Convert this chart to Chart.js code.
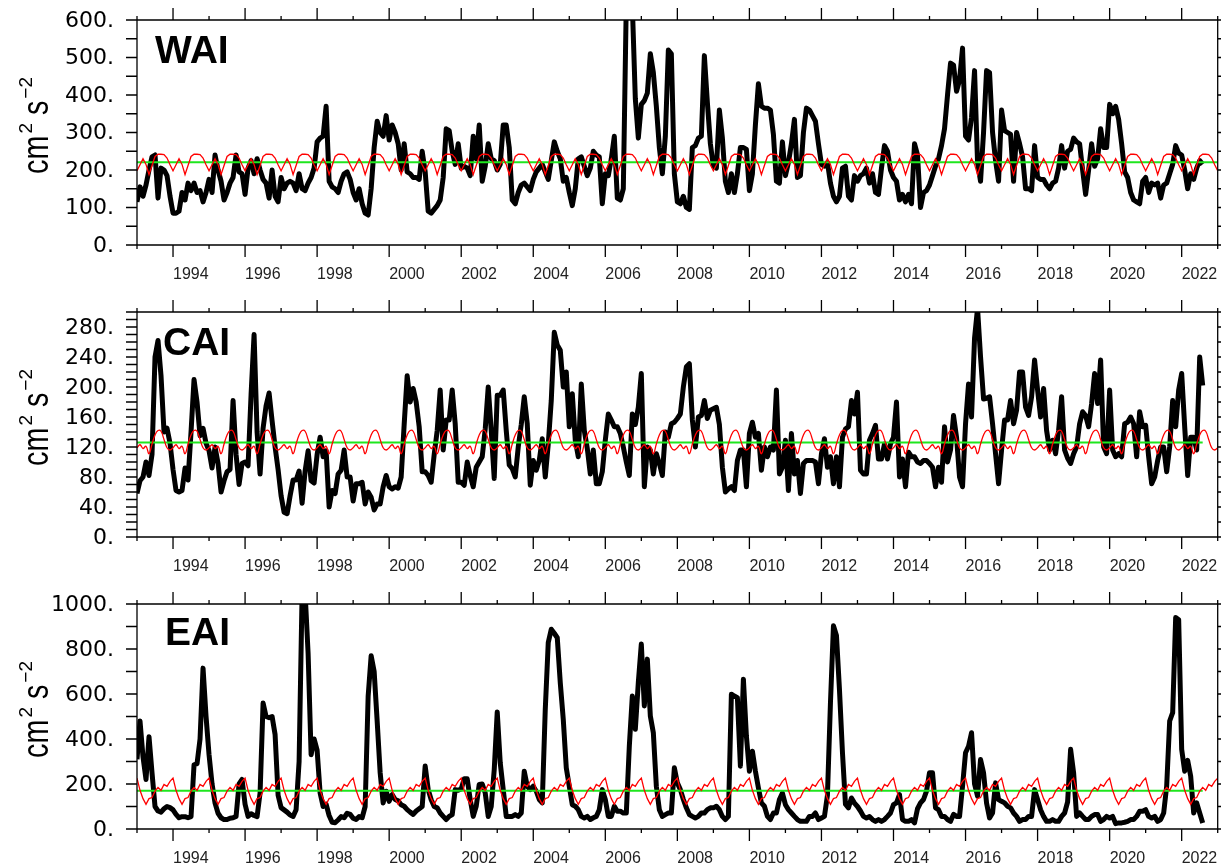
<!DOCTYPE html>
<html>
<head>
<meta charset="utf-8">
<script src="https://cdn.jsdelivr.net/npm/chart.js@4.4.1/dist/chart.umd.min.js"></script>
<style>
  body { margin: 0; background: #fff; }
  #wrap { position: relative; width: 1221px; height: 867px; overflow: hidden; background: #fff; }
  canvas { position: absolute; left: 0; }
</style>
</head>
<body>
<div id="wrap">
  <canvas id="waiChart" width="1221" height="292" style="top:0px"></canvas>
  <canvas id="caiChart" width="1221" height="292" style="top:292px"></canvas>
  <canvas id="eaiChart" width="1221" height="292" style="top:584px"></canvas>
</div>
<script>
// monthly series, Jan 1993 onward
const startYear = 1993;
const endYear = 2023;
const xTickYears = [1994, 1996, 1998, 2000, 2002, 2004, 2006, 2008, 2010, 2012, 2014, 2016, 2018, 2020, 2022];

const waiValues = [
  115, 155, 130, 160, 200, 235, 240, 125, 205, 200, 185, 130,
  85, 85, 90, 140, 120, 165, 145, 165, 140, 145, 115, 140,
  175, 140, 240, 200, 170, 120, 140, 165, 180, 240, 195, 190,
  135, 205, 225, 190, 230, 200, 175, 165, 125, 200, 130, 115,
  180, 150, 165, 170, 165, 145, 190, 150, 145, 165, 180, 205,
  275, 285, 290, 370, 170, 155, 150, 140, 170, 190, 195, 175,
  140, 120, 150, 110, 85, 80, 150, 260, 330, 300, 290, 345,
  280, 320, 300, 270, 200, 270, 195, 190, 180, 180, 175, 250,
  195, 90, 85, 95, 105, 120, 180, 310, 305, 250, 215, 270,
  205, 210, 205, 185, 290, 230, 320, 170, 210, 270, 230, 225,
  200, 215, 320, 320, 260, 120, 110, 140, 160, 165, 155, 145,
  175, 195, 205, 215, 195, 175, 225, 275, 250, 230, 170, 180,
  140, 105, 150, 230, 235, 210, 185, 205, 250, 240, 235, 110,
  190, 185, 230, 290, 125, 120, 150, 650, 700, 640, 390, 285,
  375, 385, 405, 510, 460, 370, 260, 190, 290, 520, 510, 190,
  115, 110, 130, 100, 95, 260, 265, 285, 290, 505, 380, 270,
  210, 205, 360, 285, 170, 140, 190, 140, 190, 260, 260, 255,
  145, 190, 320, 430, 370, 365, 365, 360, 295, 170, 165, 275,
  185, 220, 270, 335, 180, 185, 300, 365, 360, 345, 330, 270,
  215, 210, 220, 165, 130, 115, 130, 205, 210, 130, 120, 185,
  170, 185, 190, 205, 165, 190, 140, 135, 205, 265, 250, 200,
  180, 170, 120, 135, 115, 135, 110, 270, 240, 100, 140, 145,
  160, 185, 210, 230, 265, 310, 400, 485, 480, 410, 440, 525,
  290, 280, 340, 465, 220, 170, 300, 465, 460, 300, 225, 170,
  360, 305, 300, 295, 170, 300, 270, 235, 150, 150, 145, 265,
  180, 175, 175, 160, 150, 165, 170, 205, 265, 205, 250, 255,
  285, 275, 270, 200, 135, 200, 270, 210, 230, 310, 260, 260,
  375, 350, 370, 335, 270, 195, 180, 140, 120, 115, 110, 170,
  180, 140, 165, 160, 165, 125, 160, 165, 190, 215, 265, 245,
  240, 200, 150, 190, 175, 205, 225, 215
];
const waiClim = [198, 214, 230, 215, 188, 212, 236, 242, 242, 241, 232, 214];
const waiMean = 221;
const waiYTicks = [0, 100, 200, 300, 400, 500, 600];

const caiValues = [
  58, 75, 80, 100, 82, 110, 240, 262, 215, 140, 145, 125,
  90, 62, 60, 62, 92, 76, 140, 210, 180, 135, 145, 125,
  115, 92, 120, 98, 60, 75, 87, 90, 182, 110, 70, 98,
  100, 95, 190, 270, 140, 84, 145, 175, 192, 155, 120, 90,
  55, 33, 31, 55, 76, 76, 88, 45, 88, 115, 75, 72,
  110, 133, 107, 115, 40, 62, 58, 84, 89, 116, 80, 80,
  48, 71, 71, 73, 44, 60, 53, 36, 44, 44, 67, 82,
  67, 64, 67, 65, 80, 150, 215, 180, 198, 180, 147, 87,
  87, 82, 73, 110, 142, 196, 116, 156, 156, 196, 151, 73,
  73, 69, 100, 82, 67, 93, 100, 107, 144, 200, 142, 78,
  189, 189, 196, 142, 96, 91, 80, 120, 150, 187, 151, 69,
  102, 89, 102, 131, 80, 124, 182, 273, 256, 249, 200, 220,
  147, 191, 129, 107, 204, 142, 118, 84, 116, 71, 71, 87,
  129, 164, 156, 147, 147, 138, 120, 100, 82, 164, 150, 173,
  218, 67, 120, 116, 84, 111, 98, 82, 140, 133, 151, 153,
  158, 164, 200, 227, 231, 156, 120, 160, 162, 182, 158, 169,
  171, 173, 150, 93, 60, 64, 67, 62, 102, 116, 116, 67,
  138, 153, 133, 138, 89, 120, 107, 120, 116, 196, 84, 93,
  129, 62, 138, 84, 102, 58, 98, 102, 102, 102, 100, 71,
  111, 131, 93, 107, 71, 107, 67, 133, 144, 147, 182, 164,
  193, 89, 84, 84, 129, 138, 149, 104, 104, 124, 104, 124,
  133, 180, 80, 104, 67, 113, 107, 107, 100, 98, 102, 102,
  98, 93, 67, 93, 73, 147, 100, 116, 162, 133, 80, 67,
  151, 204, 160, 265, 305, 240, 184, 185, 187, 151, 111, 71,
  116, 156, 156, 182, 151, 169, 220, 220, 173, 162, 187, 236,
  196, 160, 198, 142, 116, 129, 111, 142, 187, 116, 105, 98,
  111, 120, 151, 167, 162, 147, 178, 218, 178, 236, 120, 111,
  196, 116, 107, 111, 107, 151, 153, 160, 151, 107, 167, 147,
  149, 107, 71, 80, 102, 120, 120, 87, 120, 182, 147, 196,
  218, 147, 82, 133, 133, 116, 240, 202
];
const caiClim = [119, 123, 118, 121, 111, 124, 136, 142, 141, 130, 119, 116];
const caiMean = 126;
const caiYTicks = [0, 40, 80, 120, 160, 200, 240, 280];

const eaiValues = [
  310, 480, 320, 220, 410, 250, 100, 80, 75, 90, 100, 95,
  85, 65, 50, 55, 55, 50, 55, 285, 290, 400, 715, 500,
  330, 200, 115, 70, 50, 42, 42, 48, 50, 56, 200, 220,
  110, 56, 68, 60, 55, 160, 560, 500, 495, 500, 420, 150,
  95, 85, 75, 62, 56, 86, 300, 1050, 1050, 780, 330, 400,
  350, 160, 100, 110, 60, 30, 28, 40, 55, 50, 70, 65,
  48, 42, 55, 50, 100, 590, 770, 700, 480, 250, 116, 168,
  123, 153, 131, 125, 108, 101, 86, 75, 65, 80, 90, 100,
  280, 175, 130, 100, 94, 71, 56, 42, 56, 64, 175, 172,
  178, 223, 223, 131, 56, 101, 198, 200, 160, 56, 100, 264,
  520, 294, 175, 56, 56, 56, 64, 56, 71, 257, 190, 175,
  190, 168, 131, 116, 532, 829, 888, 870, 850, 650, 487, 272,
  190, 108, 101, 86, 56, 49, 56, 42, 50, 56, 86, 175,
  131, 56, 56, 101, 79, 79, 71, 71, 368, 591, 443, 651,
  822, 547, 755, 502, 428, 190, 86, 56, 64, 71, 71, 272,
  205, 175, 131, 94, 64, 56, 49, 56, 71, 71, 86, 94,
  94, 101, 86, 56, 42, 56, 599, 591, 584, 279, 666, 413,
  257, 346, 257, 183, 116, 101, 56, 42, 71, 71, 131, 160,
  108, 86, 71, 56, 42, 34, 34, 34, 56, 56, 71, 42,
  49, 56, 150, 560, 903, 860, 620, 340, 110, 94, 138, 115,
  100, 80, 56, 49, 55, 42, 34, 42, 34, 42, 56, 71,
  108, 116, 153, 42, 34, 34, 42, 27, 90, 116, 131, 168,
  250, 250, 94, 86, 56, 56, 42, 34, 65, 56, 56, 190,
  339, 368, 428, 200, 146, 309, 250, 116, 49, 71, 205, 131,
  123, 116, 101, 94, 71, 56, 34, 42, 42, 56, 56, 175,
  131, 86, 56, 34, 34, 42, 34, 34, 56, 71, 120, 354,
  250, 56, 71, 56, 42, 42, 56, 64, 64, 34, 42, 56,
  49, 56, 24, 27, 27, 30, 34, 42, 42, 56, 79, 79,
  86, 56, 49, 56, 34, 42, 71, 190, 480, 517, 940, 930,
  354, 257, 305, 235, 71, 116, 71, 27
];
const eaiClim = [226, 172, 135, 110, 135, 140, 168, 185, 172, 198, 190, 212];
const eaiMean = 170;
const eaiYTicks = [0, 200, 400, 600, 800, 1000];

function monthly(values) {
  return values.map((v, i) => ({ x: startYear + i / 12, y: v }));
}

// the climatology repeats every year over the whole axis
function climatology(clim) {
  const pts = [];
  for (let i = 0; i <= (endYear - startYear) * 12; i++) {
    pts.push({ x: startYear + i / 12, y: clim[i % 12] });
  }
  return pts;
}

const frameTicks = {
  id: 'frameTicks',
  afterDraw(chart, args, opts) {
    const { ctx, chartArea: a, scales: { x, y } } = chart;
    ctx.save();
    ctx.strokeStyle = '#000';
    ctx.lineWidth = 1.3;
    ctx.beginPath();
    for (let yr = startYear; yr <= endYear; yr++) {
      const px = x.getPixelForValue(yr);
      const len = yr % 2 === 0 ? 12 : 4;
      ctx.moveTo(px, a.bottom); ctx.lineTo(px, a.bottom + len);
      ctx.moveTo(px, a.top); ctx.lineTo(px, a.top - len);
    }
    for (let v = 0; v <= y.max; v += opts.leftStep) {
      const py = y.getPixelForValue(v);
      ctx.moveTo(a.left, py); ctx.lineTo(a.left - 11, py);
    }
    for (let v = 0; v <= y.max; v += opts.rightStep) {
      const py = y.getPixelForValue(v);
      ctx.moveTo(a.right, py); ctx.lineTo(a.right + 4, py);
    }
    ctx.rect(a.left, a.top, a.right - a.left, a.bottom - a.top);
    ctx.stroke();
    ctx.restore();
  }
};

// panel name inside the plot and the rotated unit title with real superscripts
const panelText = {
  id: 'panelText',
  afterDraw(chart, args, opts) {
    const { ctx, chartArea: a } = chart;
    ctx.save();
    ctx.fillStyle = '#000';
    ctx.font = 'bold 39px "Liberation Sans", Arial, sans-serif';
    ctx.textBaseline = 'alphabetic';
    ctx.fillText(opts.text, a.left + opts.dx, a.top + opts.dy);

    const runs = [
      { t: 'cm', sup: false }, { t: '2', sup: true },
      { t: ' s', sup: false }, { t: '\u22122', sup: true }
    ];
    const mainFont = '36px "Liberation Sans", Arial, sans-serif';
    const supFont = '19px "Liberation Sans", Arial, sans-serif';
    const squeeze = 0.8;
    let total = 0;
    runs.forEach(r => {
      ctx.font = r.sup ? supFont : mainFont;
      r.w = ctx.measureText(r.t).width * (r.sup ? 1 : squeeze) + (r.sup ? 2 : 0);
      total += r.w;
    });
    ctx.translate(47.5, (a.top + a.bottom) / 2 - 7);
    ctx.rotate(-Math.PI / 2);
    let pos = -total / 2;
    runs.forEach(r => {
      ctx.save();
      ctx.translate(pos + (r.sup ? 2 : 0), r.sup ? -16 : 0);
      if (!r.sup) ctx.scale(squeeze, 1);
      ctx.font = r.sup ? supFont : mainFont;
      ctx.fillText(r.t, 0, 0);
      ctx.restore();
      pos += r.w;
    });
    ctx.restore();
  }
};

function makePanel(id, p) {
  return new Chart(document.getElementById(id), {
    type: 'line',
    data: {
      datasets: [
        { data: climatology(p.clim), borderColor: '#ff0000', borderWidth: 1.3, tension: p.smooth ? 0.4 : 0, pointRadius: 0 },
        { data: [{ x: startYear, y: p.mean }, { x: p.meanEnd, y: p.mean }], borderColor: '#1ee61e', borderWidth: 2, pointRadius: 0 },
        { data: monthly(p.values), borderColor: '#000', borderWidth: 5, borderJoinStyle: 'round', pointRadius: 0, clip: 0 }
      ]
    },
    plugins: [frameTicks, panelText],
    options: {
      responsive: false,
      animation: false,
      devicePixelRatio: 1,
      layout: { padding: { top: 20, right: 3.3, left: 0, bottom: 0 } },
      plugins: {
        legend: { display: false },
        tooltip: { enabled: false },
        frameTicks: { leftStep: p.leftStep, rightStep: p.rightStep },
        panelText: { text: p.label, dx: p.dx, dy: p.dy }
      },
      scales: {
        x: {
          type: 'linear',
          min: startYear,
          max: endYear,
          afterBuildTicks: s => { s.ticks = xTickYears.map(v => ({ value: v })); },
          afterFit: s => { s.height = 47; },
          // tick marks are drawn by frameTicks; the transparent length only spaces the labels
          grid: { drawOnChartArea: false, color: 'transparent', tickLength: 20 },
          border: { display: false },
          ticks: {
            align: 'start', maxRotation: 0, autoSkip: false, padding: 0, color: '#222',
            font: { family: '"Liberation Sans", Arial, sans-serif', size: 16 },
            callback: v => String(v)
          }
        },
        y: {
          min: 0,
          max: p.yMax,
          afterBuildTicks: s => { s.ticks = p.yTicks.map(v => ({ value: v })); },
          afterFit: s => { s.width = 137; },
          grid: { drawOnChartArea: false, color: 'transparent', tickLength: 23 },
          border: { display: false },
          ticks: {
            padding: 0, labelOffset: 1, color: '#000',
            font: { family: '"DejaVu Sans", sans-serif', size: 22 },
            callback: v => v + '.'
          }
        }
      }
    }
  });
}

makePanel('waiChart', {
  values: waiValues, clim: waiClim, mean: waiMean, meanEnd: endYear,
  yMax: 600, yTicks: waiYTicks, leftStep: 50, rightStep: 50,
  label: 'WAI', dx: 18, dy: 43, smooth: false
});
makePanel('caiChart', {
  values: caiValues, clim: caiClim, mean: caiMean, meanEnd: startYear + (caiValues.length - 1) / 12,
  yMax: 300, yTicks: caiYTicks, leftStep: 10, rightStep: 20,
  label: 'CAI', dx: 26, dy: 43, smooth: true
});
makePanel('eaiChart', {
  values: eaiValues, clim: eaiClim, mean: eaiMean, meanEnd: startYear + (eaiValues.length - 1) / 12,
  yMax: 1000, yTicks: eaiYTicks, leftStep: 100, rightStep: 100,
  label: 'EAI', dx: 28, dy: 41, smooth: false
});
</script>
</body>
</html>
